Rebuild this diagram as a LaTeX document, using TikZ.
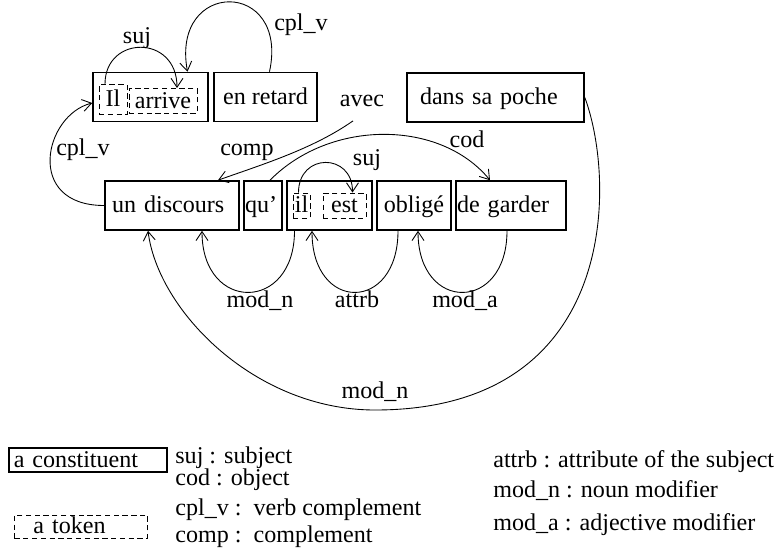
\documentclass[tikz,border=0pt]{standalone}
\usepackage{fontspec}
\setmainfont{Liberation Serif}
\usetikzlibrary{arrows.meta,calc}
\newcommand\pxu{0.02cm}
\begin{document}
\begin{tikzpicture}[x=0.02cm,y=-0.02cm,
    font=\fontsize{13.7}{16}\selectfont,
    constit/.style={draw,line width=0.9pt,inner sep=0pt,minimum height=49*\pxu,
      text height=10pt,text depth=2pt},
    tok/.style={draw,line width=0.5pt,dash pattern=on 3pt off 2pt,inner sep=0pt,
      text height=10pt,text depth=2pt},
    rel/.style={line width=0.5pt,-{Straight Barb[length=1.8mm,width=2.4mm]}},
    lbl/.style={inner sep=0pt,text height=9pt,text depth=3pt}]
    \useasboundingbox (0,0) rectangle (776,551);

    % first row
    \node[constit, minimum width=115*\pxu] (ilarrive) at (150.5,97) {};
    \node[tok, minimum width=28*\pxu, minimum height=30*\pxu] (Il) at (113,99.5) {Il};
    \node[tok, minimum width=68*\pxu, minimum height=25*\pxu] (arrive) at (163,101) {arrive};
    \node[constit, minimum width=103*\pxu] (enretard) at (265.5,97) {en retard};
    \node[lbl] (avec) at (362,101) {avec};
    \node[constit, text width=151*\pxu, inner xsep=13*\pxu, align=left] (danspoche) at (495.5,97.5) {dans sa poche};

    % second row
    \node[constit, text width=120*\pxu, inner xsep=7*\pxu, align=left] (undiscours) at (172,205.5) {un discours};
    \node[constit, text width=36*\pxu, inner xsep=1*\pxu, align=left] (qu) at (263,205.5) {qu'};
    \node[constit, minimum width=85*\pxu] (ilest) at (329.5,205.5) {};
    \node[tok, minimum width=17*\pxu, minimum height=25*\pxu] (il) at (301.5,205.5) {il};
    \node[tok, minimum width=43*\pxu, minimum height=25*\pxu] (est) at (344.5,205.5) {est};
    \node[constit, minimum width=74*\pxu] (oblige) at (414,205.5) {obligé};
    \node[constit, text width=108*\pxu, inner xsep=1*\pxu, align=left] (degarder) at (511,205.5) {de garder};

    % relations above
    \draw[rel] ($(Il.north)+(-8,0)$) .. controls +(0,-49) and +(0,-54) .. ($(arrive.north)+(14,0)$);
    \node[lbl] (lsuja) at (137,38) {suj};
    \draw[rel] ($(enretard.north)+(4,0)$) .. controls +(20,-93) and +(-17,-93) .. ($(ilarrive.north)+(37,0)$);
    \node[lbl] (lcplva) at (301,25) {cpl\_v};
    \draw[rel] (undiscours.west) .. controls +(-80,0) and +(-48,12) .. ($(ilarrive.west)+(0,6)$);
    \node[lbl] (lcplvb) at (83,150) {cpl\_v};
    \draw[rel] ($(avec.south)+(-9,9)$) .. controls +(-40,28) and +(45,-16) .. ($(undiscours.north)+(46,0)$);
    \node[lbl] (lcomp) at (247,150) {comp};
    \draw[rel] ($(qu.north)+(7,0)$) .. controls +(60,-61) and +(-50,-61) .. ($(degarder.north)+(-21,0)$);
    \node[lbl] (lcod) at (467,142) {cod};
    \draw[rel] ($(il.north)+(-3,0)$) .. controls +(0,-40) and +(0,-40) .. ($(est.north)+(8,0)$);
    \node[lbl] (lsujb) at (367,160) {suj};

    % relations below
    \draw[rel] ($(ilest.south)+(-35,0)$) .. controls +(0,82) and +(0,82) .. ($(undiscours.south)+(30,0)$);
    \node[lbl] (lmodn) at (260,302) {mod\_n};
    \draw[rel] ($(oblige.south)+(-16,0)$) .. controls +(0,82) and +(0,82) .. ($(ilest.south)+(-17.5,0)$);
    \node[lbl] (lattrb) at (357,302) {attrb};
    \draw[rel] ($(degarder.south)+(-4,0)$) .. controls +(0,82) and +(0,82) .. ($(oblige.south)+(4,0)$);
    \node[lbl] (lmoda) at (465,302) {mod\_a};
    \coordinate (bottom) at (375,410);
    \draw[rel] (danspoche.east) .. controls +(31,83) and +(245,0) .. (bottom)
      .. controls +(-120,0) and +(10,80) .. ($(undiscours.south)+(-24,0)$);
    \node[lbl] (lmodnb) at (375,393) {mod\_n};

    % legend
    \node[constit, minimum height=24*\pxu, text width=148*\pxu, inner xsep=5*\pxu, align=left, anchor=west] (legconstit) at (8,460) {a constituent};
    \node[tok, minimum height=23*\pxu, text width=95*\pxu, inner xsep=19*\pxu, align=left, anchor=west] (legtok) at (14,526.5) {a token};
    \node[lbl, anchor=west] (ksuj) at (175,458) {suj : subject};
    \node[lbl, anchor=west] (kcod) at (175,480) {cod : object};
    \node[lbl, anchor=west] (kcplv) at (175,510) {cpl\_v :\ \ verb complement};
    \node[lbl, anchor=west] (kcomp) at (175,537) {comp :\ \ complement};
    \node[lbl, anchor=west] (kattrb) at (493,462) {attrb : attribute of the subject};
    \node[lbl, anchor=west] (kmodn) at (493,492) {mod\_n : noun modifier};
    \node[lbl, anchor=west] (kmoda) at (493,525) {mod\_a : adjective modifier};
  \end{tikzpicture}
\end{document}
